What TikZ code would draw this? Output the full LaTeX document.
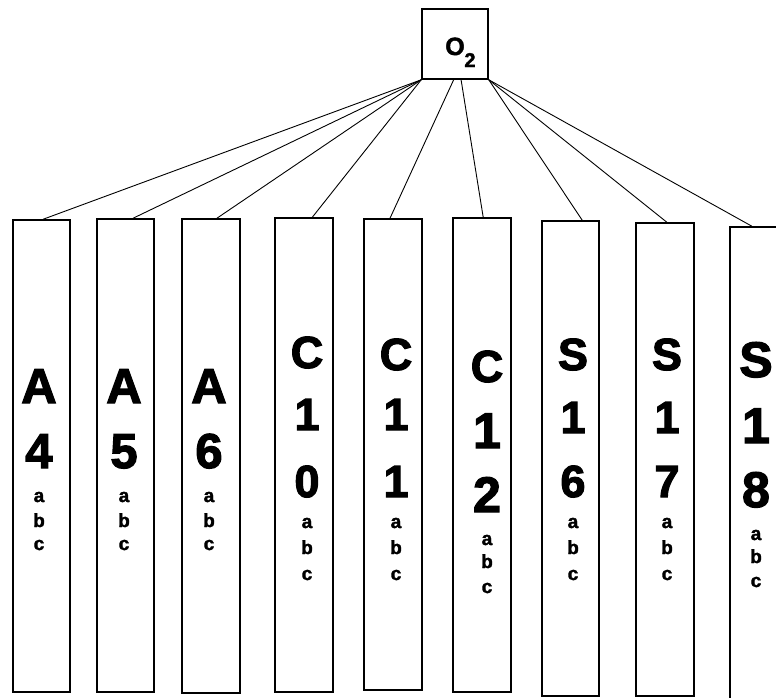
\documentclass[tikz,border=0pt]{standalone}
\usepackage{fontspec}
\setmainfont{Liberation Sans}
\newfontfamily\heavyfont[BoldFeatures={FakeBold=2.5}]{Liberation Sans}
\newfontfamily\midfont[BoldFeatures={FakeBold=1.8}]{Liberation Sans}
\usetikzlibrary{calc}

\tikzset{
  colbox/.style={draw, line width=1.6pt, inner sep=0pt},
  headbox/.style={draw, line width=1.6pt, inner sep=0pt, minimum width=66pt, minimum height=70pt},
  bigA/.style={font=\heavyfont\bfseries\fontsize{49}{49}\selectfont, anchor=base, inner sep=0pt},
  bigC/.style={font=\heavyfont\bfseries\fontsize{45}{45}\selectfont, anchor=base, inner sep=0pt},
  bigL/.style={font=\heavyfont\bfseries\fontsize{50}{50}\selectfont, anchor=base, inner sep=0pt},
  small/.style={font=\midfont\bfseries\fontsize{19}{19}\selectfont, anchor=base, inner sep=0pt},
  link/.style={line width=0.9pt},
}

\begin{document}
\begin{tikzpicture}[x=1pt, y=-1pt]
\useasboundingbox (0,0) rectangle (776,697);
\clip (0,0) rectangle (776,697);

% head node
\node[headbox] (top) at (455,44) {};
\node[font=\midfont\bfseries\fontsize{25}{25}\selectfont, anchor=base, inner sep=0pt] (ox) at (455,55) {O};
\node[font=\midfont\bfseries\fontsize{20}{20}\selectfont, anchor=base, inner sep=0pt] (ox2) at (470,67) {2};

% columns
\node[colbox, minimum width=57pt, minimum height=472pt] (c1) at (41.5,456) {};
\node[colbox, minimum width=57pt, minimum height=473pt] (c2) at (125.5,455.5) {};
\node[colbox, minimum width=58pt, minimum height=474pt] (c3) at (211,456) {};
\node[colbox, minimum width=58pt, minimum height=474pt] (c4) at (304,455) {};
\node[colbox, minimum width=58pt, minimum height=471pt] (c5) at (393,454.5) {};
\node[colbox, minimum width=58pt, minimum height=474pt] (c6) at (482,455) {};
\node[colbox, minimum width=57pt, minimum height=475pt] (c7) at (570.5,458.5) {};
\node[colbox, minimum width=58pt, minimum height=473pt] (c8) at (665,459.5) {};
\node[colbox, minimum width=58pt, minimum height=493pt] (c9) at (759,473.5) {};

% column labels
\foreach \t/\y/\s [count=\k] in {A/403/bigA,4/468/bigA,a/502/small,b/527/small,c/550/small}
  \node[\s] (l1-\k) at (39,\y) {\t};
\foreach \t/\y/\s [count=\k] in {A/403/bigA,5/468/bigA,a/502/small,b/527/small,c/550/small}
  \node[\s] (l2-\k) at (124,\y) {\t};
\foreach \t/\y/\s [count=\k] in {A/403/bigA,6/468/bigA,a/502/small,b/527/small,c/550/small}
  \node[\s] (l3-\k) at (209,\y) {\t};
\foreach \t/\y/\s [count=\k] in {C/368/bigC,1/430/bigC,0/497/bigC,a/528/small,b/554/small,c/580/small}
  \node[\s] (l4-\k) at (307,\y) {\t};
\foreach \t/\y/\s [count=\k] in {C/370/bigC,1/430/bigC,1/497/bigC,a/528/small,b/554/small,c/580/small}
  \node[\s] (l5-\k) at (396,\y) {\t};
\foreach \t/\y/\s [count=\k] in {C/382/bigC,1/448/bigL,2/512/bigL,a/545/small,b/568/small,c/593/small}
  \node[\s] (l6-\k) at (487,\y) {\t};
\foreach \t/\y/\s [count=\k] in {S/370/bigC,1/433/bigC,6/497/bigC,a/528/small,b/554/small,c/580/small}
  \node[\s] (l7-\k) at (573,\y) {\t};
\foreach \t/\y/\s [count=\k] in {S/370/bigC,1/433/bigC,7/497/bigC,a/528/small,b/554/small,c/580/small}
  \node[\s] (l8-\k) at (667,\y) {\t};
\foreach \t/\y/\s [count=\k] in {S/377/bigL,1/443/bigL,8/507/bigL,a/540/small,b/563/small,c/587/small}
  \node[\s] (l9-\k) at (756,\y) {\t};

% connectors from the head node
\draw[link] (top.south west) -- ($(c1.north west)!0.53!(c1.north east)$);
\draw[link] (top.south west) -- ($(c2.north west)!0.63!(c2.north east)$);
\draw[link] (top.south west) -- ($(c3.north west)!0.60!(c3.north east)$);
\draw[link] (top.south west) -- ($(c4.north west)!0.64!(c4.north east)$);
\draw[link] ($(top.south west)!0.48!(top.south east)$) -- ($(c5.north west)!0.45!(c5.north east)$);
\draw[link] ($(top.south west)!0.59!(top.south east)$) -- ($(c6.north west)!0.52!(c6.north east)$);
\draw[link] (top.south east) -- ($(c7.north west)!0.70!(c7.north east)$);
\draw[link] (top.south east) -- ($(c8.north west)!0.53!(c8.north east)$);
\draw[link] (top.south east) -- ($(c9.north west)!0.38!(c9.north east)$);
\end{tikzpicture}
\end{document}
